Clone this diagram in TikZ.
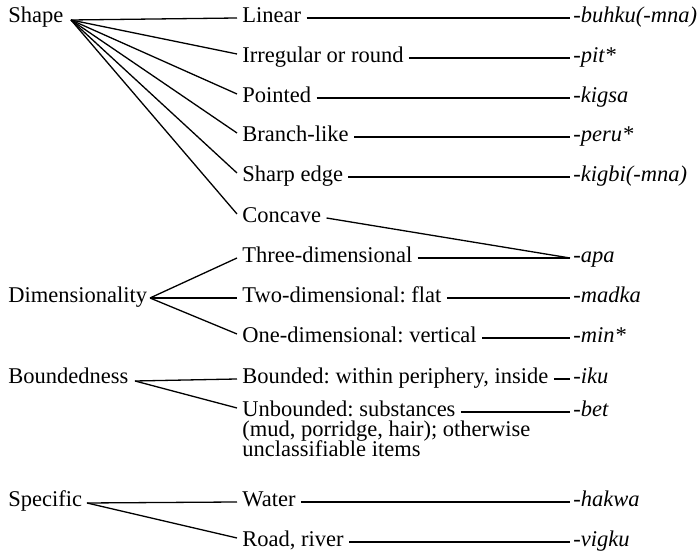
\documentclass[tikz,border=0pt]{standalone}
\usepackage{fontspec}
\setmainfont{Liberation Serif}
\frenchspacing
\begin{document}
\begin{tikzpicture}[x=0.5pt,y=-0.5pt,
  every node/.style={font=\fontsize{11.25}{10}\selectfont, inner ysep=0pt},
  cat/.style={anchor=mid west, inner xsep=0pt},
  sub/.style={anchor=mid west, inner xsep=2.5pt},
  suf/.style={anchor=mid west, inner xsep=1.5pt, font=\fontsize{11.25}{10}\selectfont\itshape},
  link/.style={line width=0.65pt}]
\useasboundingbox (0,0) rectangle (698,555);

% semantic categories
\node[cat] (shape) at (8,18)  {Shape};
\node[cat] (dim)   at (8,298) {Dimensionality};
\node[cat] (bou)   at (8,379) {Boundedness};
\node[cat] (spe)   at (8,502) {Specific};

% branching points of the fans
\coordinate (shapeA) at (71,20);
\coordinate (dimA)   at (150,298);
\coordinate (bouA)   at (135,381);
\coordinate (speA)   at (87,503);

% subcategories
\node[sub] (lin) at (237,18)  {Linear};
\node[sub] (irr) at (237,58)  {Irregular or round};
\node[sub] (poi) at (237,98)  {Pointed};
\node[sub] (bra) at (237,137) {Branch-like};
\node[sub] (sha) at (237,177) {Sharp edge};
\node[sub] (con) at (237,218) {Concave};
\node[sub] (thr) at (237,258) {Three-dimensional};
\node[sub] (two) at (237,298) {Two-dimensional: flat};
\node[sub] (one) at (237,338) {One-dimensional: vertical};
\node[sub] (bnd) at (237,379) {Bounded: within periphery, inside};
\node[sub] (unb) at (237,412) {Unbounded: substances};
\node[sub, anchor=base west] (unbB) at ([yshift=-10pt]unb.base west) {(mud, porridge, hair); otherwise};
\node[sub, anchor=base west] (unbC) at ([yshift=-10pt]unbB.base west) {unclassifiable items};
\node[sub] (wat) at (237,502) {Water};
\node[sub] (roa) at (237,542) {Road, river};

% classifier suffixes
\node[suf] (buh) at (570,18)  {-buhku(-mna)};
\node[suf] (pit) at (570,58)  {-pit*};
\node[suf] (kig) at (570,98)  {-kigsa};
\node[suf] (per) at (570,137) {-peru*};
\node[suf] (kgb) at (570,177) {-kigbi(-mna)};
\node[suf] (apa) at (570,258) {-apa};
\node[suf] (mad) at (570,298) {-madka};
\node[suf] (min) at (570,338) {-min*};
\node[suf] (iku) at (570,379) {-iku};
\node[suf] (bet) at (570,412) {-bet};
\node[suf] (hak) at (570,502) {-hakwa};
\node[suf] (vig) at (570,542) {-vigku};

% fans from the categories
\draw[link] (shapeA) -- (lin.mid west);
\foreach \n in {irr,poi,bra,sha,con}
  \draw[link] (shapeA) -- ([yshift=2pt]\n.mid west);
\draw[link] (dimA) -- (thr.mid west);
\draw[link] (dimA) -- (two.mid west);
\draw[link] (dimA) -- ([yshift=2pt]one.mid west);
\draw[link] (bouA) -- (bnd.mid west);
\draw[link] (bouA) -- ([yshift=2pt]unb.mid west);
\draw[link] (speA) -- (wat.mid west);
\draw[link] (speA) -- ([yshift=2pt]roa.mid west);

% subcategories to suffixes
\draw[link] (lin.mid east) -- (buh.mid west);
\draw[link] (irr.mid east) -- (pit.mid west);
\draw[link] (poi.mid east) -- (kig.mid west);
\draw[link] (bra.mid east) -- (per.mid west);
\draw[link] (sha.mid east) -- (kgb.mid west);
\draw[link] (con.mid east) -- (apa.mid west);
\draw[link] (thr.mid east) -- (apa.mid west);
\draw[link] (two.mid east) -- (mad.mid west);
\draw[link] (one.mid east) -- (min.mid west);
\draw[link] (bnd.mid east) -- (iku.mid west);
\draw[link] (unb.mid east) -- (bet.mid west);
\draw[link] (wat.mid east) -- (hak.mid west);
\draw[link] (roa.mid east) -- (vig.mid west);
\end{tikzpicture}
\end{document}
